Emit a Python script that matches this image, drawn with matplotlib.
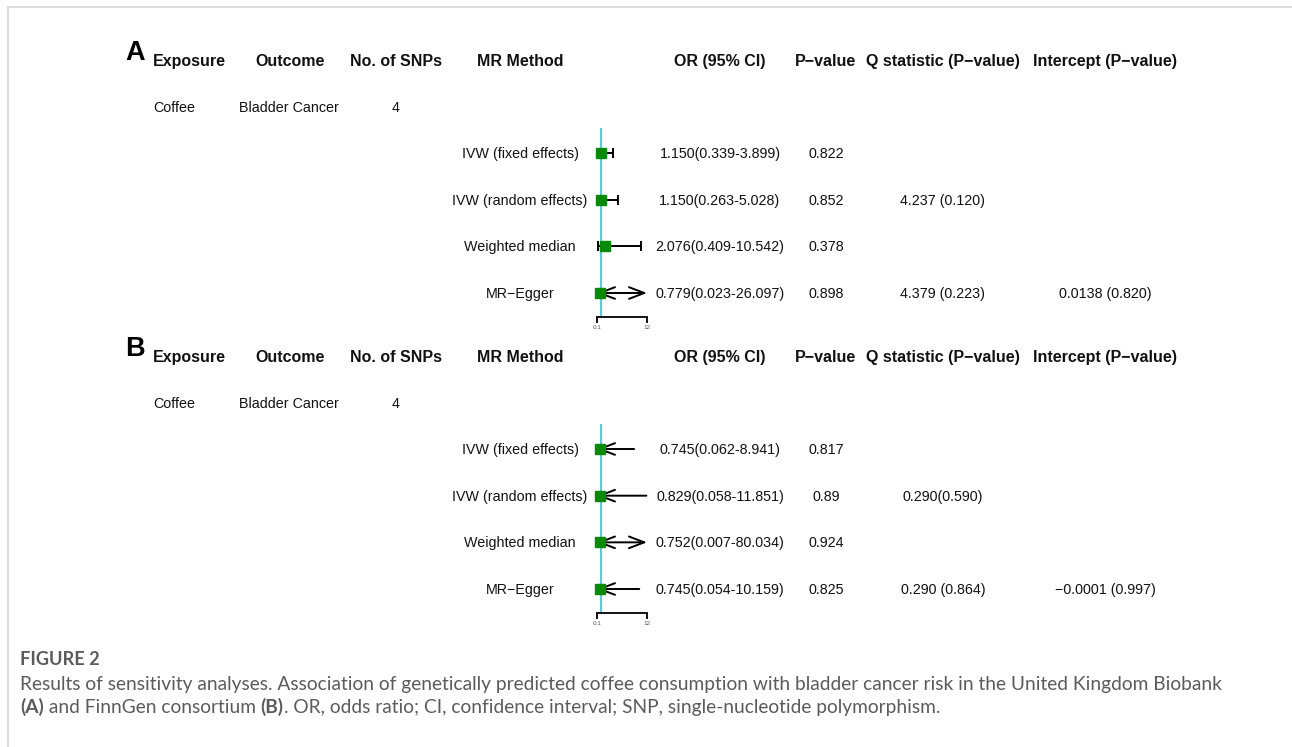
import matplotlib
matplotlib.use("Agg")
import matplotlib.pyplot as plt
from matplotlib.lines import Line2D

# ---------------- data ----------------
headers = ["Exposure", "Outcome", "No. of SNPs", "MR Method", "OR (95% CI)",
           "P\u2212value", "Q statistic (P\u2212value)", "Intercept (P\u2212value)"]
exposure = "Coffee"
outcome = "Bladder Cancer"
n_snps = "4"
methods = ["IVW (fixed effects)", "IVW (random effects)", "Weighted median", "MR\u2212Egger"]

A_or = [1.150, 1.150, 2.076, 0.779]
A_lo = [0.339, 0.263, 0.409, 0.023]
A_hi = [3.899, 5.028, 10.542, 26.097]
A_p = ["0.822", "0.852", "0.378", "0.898"]
A_q = ["", "4.237 (0.120)", "", "4.379 (0.223)"]
A_int = ["", "", "", "0.0138 (0.820)"]

B_or = [0.745, 0.829, 0.752, 0.745]
B_lo = [0.062, 0.058, 0.007, 0.054]
B_hi = [8.941, 11.851, 80.034, 10.159]
B_p = ["0.817", "0.89", "0.924", "0.825"]
B_q = ["", "0.290(0.590)", "", "0.290 (0.864)"]
B_int = ["", "", "", "\u22120.0001 (0.997)"]

axis_ticks = [0.1, 12]
axis_ticklabels = ["0.1", "12"]
ref_line = 1.0

caption_title = "FIGURE 2"
caption_line1 = ("Results of sensitivity analyses. Association of genetically predicted coffee "
                 "consumption with bladder cancer risk in the United Kingdom Biobank")
caption_line2 = [("(A)", "bold"), (" and FinnGen consortium ", "normal"), ("(B)", "bold"),
                 (". OR, odds ratio; CI, confidence interval; SNP, single-nucleotide polymorphism.", "normal")]

# ---------------- layout ----------------
W, H = 1292, 747
fig = plt.figure(figsize=(W / 100, H / 100), dpi=100)
bg = fig.add_axes([0, 0, 1, 1])
bg.set_xlim(0, W)
bg.set_ylim(H, 0)
bg.axis("off")

# frame lines
bg.add_line(Line2D([8, W], [7, 7], color="#d5d5d5", lw=1.2))
bg.add_line(Line2D([8, 8], [7, H], color="#d5d5d5", lw=1.2))

FONT = "Liberation Sans"
TXT = "#111111"
col_x = [189, 290, 396, 520, 720, 826, 943, 1105]
BLUE = "#5cc9dc"
GREEN = "#078a07"
BODY = 10.3


def body(x, y, s):
    bg.text(x, y + 5, s, fontsize=BODY, family=FONT, ha="center", va="baseline", color=TXT)


def panel(letter, y0, ors, los, his, ps, qs, ints):
    bg.text(135, y0 - 1, letter, fontsize=19.5, fontweight="bold", family=FONT,
            ha="center", va="baseline", color="black")
    for x, h in zip(col_x, headers):
        bg.text(x, y0 + 5, h, fontsize=11.5, fontweight="bold", family=FONT,
                ha="center", va="baseline", color=TXT)
    yr = y0 + 46
    body(174, yr, exposure)
    body(289, yr, outcome)
    body(396, yr, n_snps)
    row0 = y0 + 92
    step = 46.67
    for i in range(len(methods)):
        y = row0 + step * i
        body(col_x[3], y, methods[i])
        body(col_x[4], y, f"{ors[i]:.3f}({los[i]:.3f}-{his[i]:.3f})")
        body(col_x[5], y, ps[i])
        if qs[i]:
            body(col_x[6], y, qs[i])
        if ints[i]:
            body(col_x[7], y, ints[i])

    # forest axes
    x_left, x_right = 597, 647
    top, bottom = row0 - 25, row0 + 164
    ax = fig.add_axes([x_left / W, 1 - bottom / H, (x_right - x_left) / W, (bottom - top) / H])
    ax.set_xlim(axis_ticks[0], axis_ticks[-1])
    ax.set_ylim((bottom - row0) / step, (top - row0) / step)
    ax.patch.set_alpha(0)
    for s in ["top", "left", "right"]:
        ax.spines[s].set_visible(False)
    ax.spines["bottom"].set_linewidth(1.3)
    ax.set_yticks([])
    ax.set_xticks(axis_ticks)
    ax.set_xticklabels(axis_ticklabels, fontsize=4.5, color="#555555", family=FONT)
    ax.tick_params(axis="x", direction="out", length=4, width=1.3, pad=2)
    ax.axvline(ref_line, color=BLUE, lw=1.6, zorder=1)
    xmin, xmax = axis_ticks[0], axis_ticks[-1]
    for i in range(len(ors)):
        lo, hi = los[i], his[i]
        lclip, rclip = lo < xmin, hi > xmax
        a, b = max(lo, xmin), min(hi, xmax)
        if lclip or rclip:
            style = "<->" if (lclip and rclip) else ("<-" if lclip else "->")
            ax.annotate("", xy=(b, i), xytext=(a, i),
                        arrowprops=dict(arrowstyle=style + ",head_length=1.1,head_width=0.42",
                                        lw=1.4, color="black", shrinkA=0, shrinkB=0),
                        zorder=2, annotation_clip=False)
        else:
            ax.plot([a, b], [i, i], color="black", lw=1.4, zorder=2, clip_on=False)
            ax.plot([a, b], [i, i], ls="none", marker="|", ms=7, mew=1.4, color="black",
                    zorder=2, clip_on=False)
        ax.plot([ors[i]], [i], marker="s", ms=7.4, color=GREEN, mec=GREEN, zorder=3, clip_on=False)


panel("A", 61, A_or, A_lo, A_hi, A_p, A_q, A_int)
panel("B", 357, B_or, B_lo, B_hi, B_p, B_q, B_int)

# ---------------- caption ----------------
CAP = "Lato"
CAPC = "#5b5b5b"
renderer = fig.canvas.get_renderer()
tt = bg.text(20, 665, caption_title, fontsize=12.5, family=CAP, color=CAPC, fontweight="bold",
             ha="left", va="baseline")
wt_ = tt.get_window_extent(renderer).width
tt.set_fontsize(12.5 * 80 / wt_)

t1 = bg.text(20, 690, caption_line1, fontsize=12, family=CAP, color=CAPC, ha="left", va="baseline")
w = t1.get_window_extent(renderer).width
size = 12 * (1219 - 20) / w
t1.set_fontsize(size)

x = 20
for txt, wt in caption_line2:
    t = bg.text(x, 713, txt, fontsize=size, family=CAP, color=CAPC, fontweight=wt,
                ha="left", va="baseline")
    x += t.get_window_extent(renderer).width

fig.savefig("out.png", dpi=100)
